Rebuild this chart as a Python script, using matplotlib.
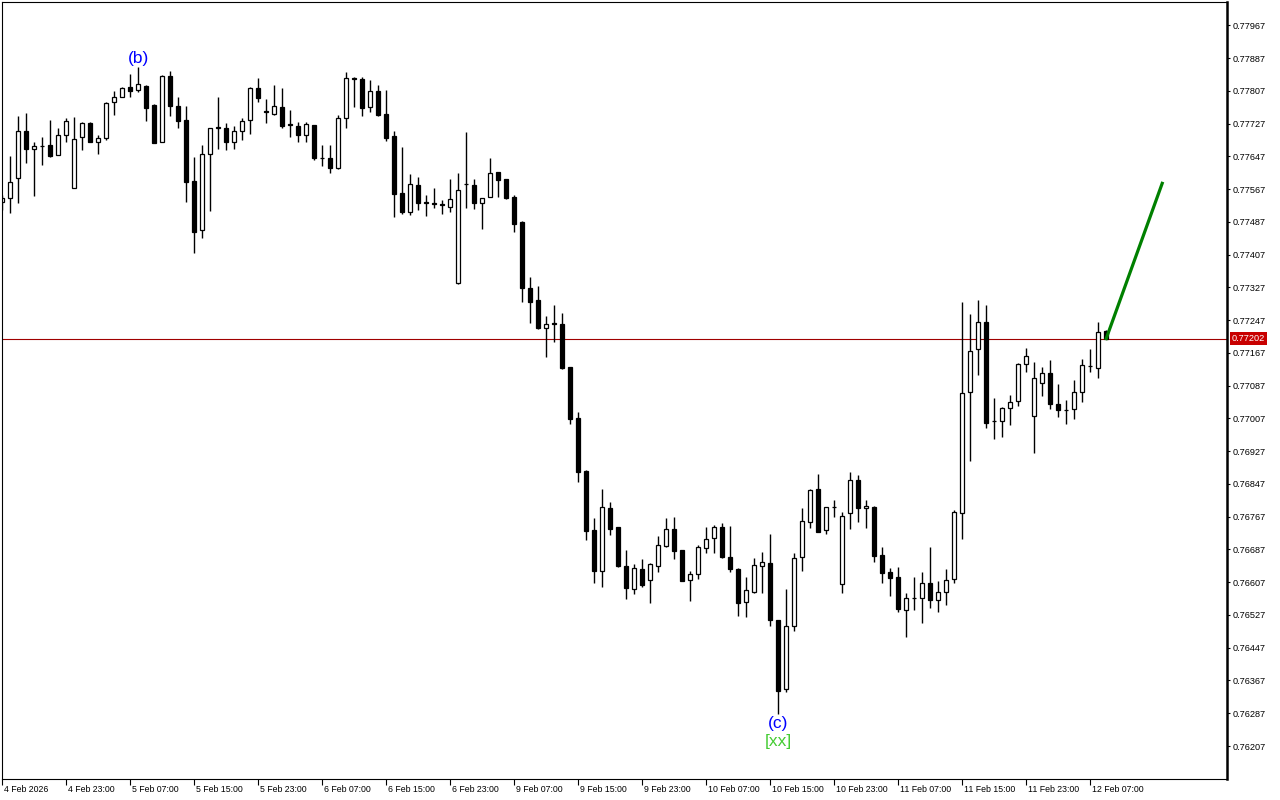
import matplotlib.pyplot as plt
import matplotlib.transforms as mtransforms
import numpy as np

plt.rcParams['font.family'] = ['Liberation Sans', 'DejaVu Sans']

# hourly OHLC, 4 Feb 15:00 .. 12 Feb 09:00
opens = [0.77535, 0.77545, 0.77594, 0.77708, 0.77664, 0.77673, 0.77674, 0.77650, 0.77698, 0.77569,
         0.77694, 0.77728, 0.77681, 0.77691, 0.77779, 0.77791, 0.77816, 0.77808, 0.77818, 0.77772,
         0.77681, 0.77842, 0.77769, 0.77735, 0.77586, 0.77467, 0.77652, 0.77718, 0.77716, 0.77681,
         0.77708, 0.77735, 0.77813, 0.77757, 0.77750, 0.77767, 0.77725, 0.77720, 0.77698, 0.77723,
         0.77642, 0.77642, 0.77618, 0.77740, 0.77838, 0.77835, 0.77767, 0.77806, 0.77750, 0.77696,
         0.77557, 0.77510, 0.77576, 0.77535, 0.77532, 0.77530, 0.77523, 0.77337, 0.77579, 0.77576,
         0.77532, 0.77547, 0.77608, 0.77591, 0.77547, 0.77486, 0.77325, 0.77296, 0.77227, 0.77240,
         0.77237, 0.77132, 0.77008, 0.76878, 0.76734, 0.76634, 0.76788, 0.76742, 0.76646, 0.76590,
         0.76639, 0.76612, 0.76646, 0.76695, 0.76737, 0.76685, 0.76612, 0.76627, 0.76690, 0.76715,
         0.76742, 0.76668, 0.76639, 0.76559, 0.76583, 0.76646, 0.76654, 0.76515, 0.76346, 0.76500,
         0.76668, 0.76754, 0.76834, 0.76734, 0.76790, 0.76603, 0.76776, 0.76856, 0.76788, 0.76790,
         0.76673, 0.76632, 0.76620, 0.76539, 0.76568, 0.76568, 0.76605, 0.76563, 0.76583, 0.76615,
         0.76776, 0.77071, 0.77176, 0.77242, 0.77000, 0.77000, 0.77032, 0.77049, 0.77140, 0.77013,
         0.77093, 0.77118, 0.77042, 0.77027, 0.77030, 0.77071, 0.77135, 0.77130, 0.77220]
highs = [0.77552, 0.77647, 0.77745, 0.77752, 0.77681, 0.77694, 0.77735, 0.77716, 0.77740, 0.77742,
         0.77730, 0.77730, 0.77698, 0.77779, 0.77806, 0.77816, 0.77847, 0.77864, 0.77820, 0.77774,
         0.77845, 0.77855, 0.77791, 0.77769, 0.77645, 0.77674, 0.77716, 0.77791, 0.77728, 0.77720,
         0.77740, 0.77816, 0.77838, 0.77786, 0.77820, 0.77813, 0.77760, 0.77730, 0.77730, 0.77723,
         0.77674, 0.77674, 0.77747, 0.77852, 0.77840, 0.77840, 0.77833, 0.77820, 0.77808, 0.77708,
         0.77669, 0.77603, 0.77596, 0.77552, 0.77569, 0.77540, 0.77591, 0.77606, 0.77706, 0.77591,
         0.77545, 0.77642, 0.77608, 0.77591, 0.77552, 0.77488, 0.77352, 0.77330, 0.77257, 0.77283,
         0.77264, 0.77132, 0.77022, 0.76881, 0.76764, 0.76834, 0.76803, 0.76742, 0.76685, 0.76651,
         0.76664, 0.76654, 0.76720, 0.76764, 0.76766, 0.76685, 0.76634, 0.76698, 0.76742, 0.76747,
         0.76751, 0.76744, 0.76642, 0.76620, 0.76666, 0.76681, 0.76725, 0.76515, 0.76590, 0.76678,
         0.76788, 0.76834, 0.76871, 0.76790, 0.76808, 0.76778, 0.76876, 0.76869, 0.76808, 0.76793,
         0.76693, 0.76642, 0.76644, 0.76581, 0.76620, 0.76632, 0.76693, 0.76610, 0.76639, 0.76783,
         0.77291, 0.77262, 0.77296, 0.77283, 0.77057, 0.77035, 0.77064, 0.77142, 0.77179, 0.77144,
         0.77132, 0.77149, 0.77091, 0.77052, 0.77100, 0.77152, 0.77176, 0.77242, 0.77222]
lows = [0.77515, 0.77508, 0.77532, 0.77630, 0.77550, 0.77625, 0.77645, 0.77650, 0.77681, 0.77569,
        0.77662, 0.77681, 0.77652, 0.77686, 0.77747, 0.77791, 0.77791, 0.77803, 0.77733, 0.77679,
        0.77681, 0.77745, 0.77716, 0.77535, 0.77410, 0.77447, 0.77513, 0.77664, 0.77662, 0.77664,
        0.77686, 0.77701, 0.77779, 0.77728, 0.77747, 0.77716, 0.77694, 0.77681, 0.77681, 0.77637,
        0.77623, 0.77606, 0.77615, 0.77716, 0.77767, 0.77745, 0.77755, 0.77745, 0.77684, 0.77498,
        0.77506, 0.77503, 0.77515, 0.77501, 0.77520, 0.77506, 0.77510, 0.77335, 0.77520, 0.77518,
        0.77469, 0.77547, 0.77547, 0.77542, 0.77462, 0.77291, 0.77240, 0.77225, 0.77157, 0.77193,
        0.77127, 0.76993, 0.76851, 0.76710, 0.76605, 0.76595, 0.76722, 0.76644, 0.76566, 0.76578,
        0.76595, 0.76556, 0.76632, 0.76693, 0.76664, 0.76610, 0.76561, 0.76615, 0.76678, 0.76678,
        0.76666, 0.76632, 0.76524, 0.76522, 0.76581, 0.76581, 0.76500, 0.76285, 0.76339, 0.76488,
        0.76634, 0.76739, 0.76729, 0.76725, 0.76766, 0.76581, 0.76737, 0.76754, 0.76739, 0.76656,
        0.76605, 0.76573, 0.76534, 0.76473, 0.76539, 0.76507, 0.76544, 0.76534, 0.76551, 0.76605,
        0.76712, 0.76903, 0.77113, 0.76983, 0.76956, 0.76961, 0.76991, 0.77037, 0.77120, 0.76922,
        0.77061, 0.77030, 0.77010, 0.76993, 0.77005, 0.77047, 0.77120, 0.77105, 0.77202]
closes = [0.77545, 0.77584, 0.77708, 0.77664, 0.77672, 0.77671, 0.77647, 0.77698, 0.77733, 0.77689,
          0.77728, 0.77681, 0.77691, 0.77777, 0.77791, 0.77813, 0.77806, 0.77823, 0.77764, 0.77679,
          0.77842, 0.77769, 0.77733, 0.77584, 0.77462, 0.77652, 0.77716, 0.77716, 0.77681, 0.77708,
          0.77733, 0.77813, 0.77789, 0.77755, 0.77769, 0.77720, 0.77723, 0.77698, 0.77725, 0.77642,
          0.77642, 0.77618, 0.77740, 0.77838, 0.77835, 0.77764, 0.77806, 0.77747, 0.77691, 0.77554,
          0.77510, 0.77579, 0.77532, 0.77532, 0.77530, 0.77528, 0.77542, 0.77564, 0.77579, 0.77532,
          0.77545, 0.77606, 0.77589, 0.77545, 0.77481, 0.77325, 0.77291, 0.77227, 0.77237, 0.77237,
          0.77130, 0.77005, 0.76876, 0.76732, 0.76634, 0.76790, 0.76737, 0.76646, 0.76593, 0.76642,
          0.76600, 0.76651, 0.76698, 0.76737, 0.76683, 0.76610, 0.76627, 0.76693, 0.76712, 0.76742,
          0.76668, 0.76639, 0.76556, 0.76588, 0.76649, 0.76656, 0.76515, 0.76341, 0.76500, 0.76666,
          0.76756, 0.76832, 0.76729, 0.76790, 0.76790, 0.76768, 0.76856, 0.76788, 0.76793, 0.76671,
          0.76629, 0.76617, 0.76541, 0.76568, 0.76568, 0.76605, 0.76563, 0.76583, 0.76612, 0.76778,
          0.77069, 0.77171, 0.77242, 0.76996, 0.77000, 0.77032, 0.77047, 0.77140, 0.77159, 0.77105,
          0.77118, 0.77042, 0.77027, 0.77027, 0.77071, 0.77137, 0.77135, 0.77218, 0.77202]

last_price = 0.77202
# projected move drawn from the last bar
proj_bars = [138, 145]
proj_prices = [0.77202, 0.77581]

wave_b_bar = 17
wave_c_bar = 97

price_ticks = [0.76207, 0.76287, 0.76367, 0.76447, 0.76527, 0.76607, 0.76687, 0.76767,
               0.76847, 0.76927, 0.77007, 0.77087, 0.77167, 0.77247, 0.77327, 0.77407,
               0.77487, 0.77567, 0.77647, 0.77727, 0.77807, 0.77887, 0.77967]
time_ticks = [0, 8, 16, 24, 32, 40, 48, 56, 64, 72, 80, 88, 96, 104, 112, 120, 128, 136]
time_labels = ["4 Feb 2026", "4 Feb 23:00", "5 Feb 07:00", "5 Feb 15:00", "5 Feb 23:00",
               "6 Feb 07:00", "6 Feb 15:00", "6 Feb 23:00", "9 Feb 07:00", "9 Feb 15:00",
               "9 Feb 23:00", "10 Feb 07:00", "10 Feb 15:00", "10 Feb 23:00", "11 Feb 07:00",
               "11 Feb 15:00", "11 Feb 23:00", "12 Feb 07:00"]

o = np.array(opens)
h = np.array(highs)
l = np.array(lows)
c = np.array(closes)
x = np.arange(len(o))
up = c >= o

fig = plt.figure(figsize=(12.8, 8), dpi=100)
ax = fig.add_axes([2.3 / 1280, 21.5 / 800, 1224.7 / 1280, 776.2 / 800])

ax.axhline(last_price, color='#a00000', lw=0.8, zorder=0)

ax.vlines(x, l, h, color='black', lw=1.0, zorder=1)
bottom = np.minimum(o, c)
height = np.maximum(np.abs(c - o), 0.000004)
ax.bar(x[up], height[up], bottom=bottom[up], width=0.5, facecolor='white',
       edgecolor='black', linewidth=0.9, zorder=2)
ax.bar(x[~up], height[~up], bottom=bottom[~up], width=0.5, facecolor='black',
       edgecolor='black', linewidth=0.9, zorder=2)

ax.plot(proj_bars, proj_prices, color='#008000', lw=2.3, zorder=3)

ax.annotate('(b)', xy=(wave_b_bar, h[wave_b_bar]), xytext=(0, 6.5), textcoords='offset points',
            ha='center', va='center', color='#0000ff', fontsize=12.5)
ax.annotate('(c)', xy=(wave_c_bar, l[wave_c_bar]), xytext=(0, -6.5), textcoords='offset points',
            ha='center', va='center', color='#0000ff', fontsize=12.5)
ax.annotate('[xx]', xy=(wave_c_bar, l[wave_c_bar]), xytext=(0, -20), textcoords='offset points',
            ha='center', va='center', color='#44cc33', fontsize=12.5)

ax.set_xlim(0, 153.1)
ax.set_ylim(0.7612768, 0.7802312)

ax.yaxis.tick_right()
ax.set_yticks(price_ticks)
ax.set_yticklabels([f'{v:.5f}' for v in price_ticks])
ax.tick_params(axis='y', direction='out', length=2.5, width=0.8, pad=1.2, labelsize=6.6)

ax.set_xticks(time_ticks)
ax.set_xticklabels(time_labels)
ax.tick_params(axis='x', direction='out', length=4.3, width=0.8, pad=0.6, labelsize=6.3)
shift = mtransforms.ScaledTranslation(2 / 100, 0, fig.dpi_scale_trans)
for lab in ax.get_xticklabels():
    lab.set_horizontalalignment('left')
    lab.set_transform(lab.get_transform() + shift)

for side in ['left', 'top', 'bottom']:
    ax.spines[side].set_linewidth(0.8)
ax.spines['right'].set_linewidth(1.8)

# current price tag on the scale
ax.annotate(f'{last_price:.5f}', xy=(1, last_price), xycoords=('axes fraction', 'data'),
            xytext=(3.2, 0), textcoords='offset points', ha='left', va='center',
            color='white', fontsize=6.6,
            bbox=dict(boxstyle='square,pad=0.2', fc='#c80000', ec='none'))

fig.savefig('out.png', dpi=100)
